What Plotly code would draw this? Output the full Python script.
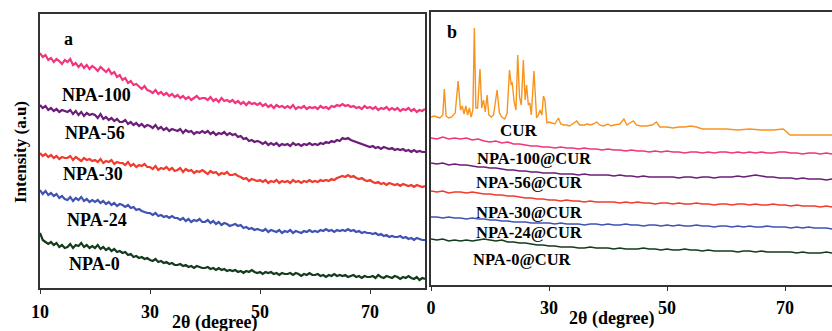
import plotly.graph_objects as go

# ---------------- data ----------------
two_theta_a = [10 + 0.5 * i for i in range(141)]
two_theta_b = [10 + 1.0 * i for i in range(71)]

npa100 = [235, 231, 233, 228, 230, 226, 229, 227, 224, 228,
          226, 229, 223, 225, 221, 224, 220, 223, 219, 222,
          220, 217, 221, 218, 216, 219, 214, 216, 211, 213,
          208, 210, 205, 207, 203, 204, 201, 199, 202, 198,
          197, 195, 198, 194, 196, 193, 195, 192, 194, 191,
          193, 190, 192, 189, 191, 188, 190, 192, 189, 190,
          190, 188, 191, 187, 189, 186, 190, 187, 188, 186,
          188, 185, 187, 184, 186, 183, 186, 184, 185, 183,
          185, 182, 184, 181, 183, 180, 183, 181, 182, 180,
          182, 180, 183, 179, 181, 180, 182, 179, 181, 180,
          181, 179, 182, 180, 181, 179, 182, 181, 183, 182,
          184, 182, 183, 181, 182, 180, 181, 179, 182, 180,
          181, 179, 181, 178, 180, 179, 181, 178, 180, 178,
          180, 177, 179, 178, 180, 177, 179, 176, 178, 177,
          179]
npa56 = [183, 180, 182, 178, 180, 177, 179, 176, 178, 177,
         176, 178, 174, 177, 173, 176, 172, 175, 173, 174,
         173, 170, 174, 169, 171, 168, 170, 167, 169, 166,
         166, 168, 164, 166, 163, 165, 162, 164, 161, 163,
         162, 160, 163, 159, 161, 158, 160, 157, 159, 158,
         157, 159, 155, 158, 156, 157, 154, 156, 155, 157,
         155, 157, 154, 156, 153, 155, 154, 156, 153, 155,
         153, 154, 151, 152, 149, 150, 147, 148, 146, 147,
         146, 144, 146, 143, 145, 143, 145, 142, 144, 143,
         144, 142, 145, 143, 144, 142, 144, 143, 145, 143,
         144, 143, 145, 144, 146, 145, 147, 146, 148, 147,
         150, 149, 150, 148, 147, 146, 145, 144, 143, 142,
         141, 142, 140, 141, 139, 141, 140, 139, 140, 138,
         139, 138, 139, 137, 138, 136, 138, 136, 137, 136,
         136]
npa30 = [135, 132, 134, 131, 133, 130, 132, 129, 131, 130,
         130, 132, 128, 131, 129, 127, 130, 128, 129, 127,
         128, 126, 129, 125, 127, 126, 128, 124, 126, 125,
         125, 123, 126, 122, 124, 121, 123, 122, 124, 121,
         121, 119, 122, 118, 120, 119, 121, 118, 120, 117,
         118, 120, 116, 119, 117, 118, 115, 117, 116, 118,
         116, 114, 117, 115, 116, 113, 115, 114, 116, 113,
         113, 114, 112, 111, 109, 110, 107, 109, 108, 107,
         108, 106, 108, 105, 107, 106, 108, 105, 107, 106,
         107, 105, 108, 106, 107, 105, 107, 106, 108, 106,
         107, 106, 108, 107, 108, 107, 109, 108, 110, 111,
         112, 111, 113, 111, 112, 110, 109, 110, 108, 107,
         108, 106, 105, 106, 104, 105, 103, 105, 104, 103,
         104, 102, 104, 103, 102, 103, 101, 103, 102, 101,
         102]
npa24 = [98, 94, 97, 93, 95, 92, 94, 90, 92, 89,
         88, 91, 87, 90, 88, 91, 87, 89, 86, 88,
         86, 88, 85, 87, 84, 86, 83, 85, 82, 84,
         83, 81, 83, 80, 81, 78, 79, 77, 76, 75,
         75, 73, 75, 72, 73, 71, 72, 70, 72, 70,
         70, 68, 70, 67, 69, 66, 68, 67, 69, 66,
         66, 68, 65, 67, 64, 66, 63, 65, 64, 62,
         63, 64, 62, 63, 60, 61, 59, 60, 58, 59,
         58, 57, 59, 56, 58, 57, 56, 58, 55, 57,
         56, 58, 55, 57, 56, 55, 57, 56, 58, 56,
         57, 56, 58, 57, 59, 57, 58, 56, 58, 57,
         58, 57, 59, 57, 58, 56, 57, 55, 56, 55,
         55, 54, 55, 53, 54, 52, 53, 51, 52, 51,
         51, 52, 50, 51, 49, 50, 48, 50, 49, 48,
         48]
npa0 = [55, 48, 46, 44, 46, 43, 45, 41, 43, 40,
        41, 44, 40, 43, 42, 45, 41, 43, 40, 42,
        40, 43, 39, 41, 38, 40, 37, 39, 36, 37,
        35, 36, 33, 34, 31, 32, 30, 31, 29, 30,
        28, 27, 29, 26, 27, 25, 26, 24, 25, 23,
        23, 24, 22, 23, 21, 22, 20, 22, 21, 20,
        20, 21, 19, 20, 18, 20, 18, 19, 17, 18,
        17, 18, 16, 17, 15, 17, 16, 18, 16, 15,
        16, 14, 16, 15, 16, 14, 15, 13, 15, 14,
        14, 15, 13, 15, 14, 12, 14, 13, 15, 13,
        13, 14, 12, 13, 11, 13, 12, 14, 12, 13,
        12, 13, 11, 12, 13, 11, 12, 10, 12, 11,
        11, 12, 10, 13, 11, 10, 12, 11, 10, 12,
        11, 9, 11, 10, 12, 10, 9, 11, 8, 10,
        9]

npa100_cur = [147, 146, 148, 146, 147, 146, 147, 145, 146, 144,
              143, 144, 142, 143, 141, 141, 140, 139, 139, 138,
              138, 137, 138, 137, 137, 136, 137, 136, 136, 135,
              136, 135, 135, 134, 135, 134, 134, 133, 134, 133,
              134, 133, 133, 132, 133, 133, 132, 133, 132, 133,
              133, 132, 133, 132, 133, 132, 133, 132, 132, 133,
              133, 132, 132, 131, 132, 132, 131, 132, 131, 132,
              132]
npa56_cur = [122, 121, 122, 120, 121, 120, 120, 119, 118, 118,
             117, 117, 116, 115, 115, 114, 114, 113, 113, 112,
             112, 112, 111, 111, 111, 110, 111, 110, 110, 110,
             110, 109, 110, 109, 109, 108, 109, 108, 108, 108,
             108, 108, 107, 108, 108, 107, 108, 108, 107, 108,
             108, 108, 109, 108, 109, 110, 109, 108, 108, 107,
             107, 107, 106, 107, 106, 106, 106, 105, 106, 105,
             105]
npa30_cur = [94, 93, 94, 92, 93, 93, 92, 93, 92, 91,
             91, 90, 90, 89, 89, 88, 87, 87, 86, 86,
             85, 85, 84, 85, 84, 84, 83, 84, 83, 83,
             83, 83, 82, 83, 82, 83, 82, 82, 81, 82,
             82, 81, 82, 81, 81, 82, 81, 81, 80, 81,
             81, 80, 81, 81, 80, 81, 80, 80, 81, 80,
             80, 79, 80, 79, 79, 79, 78, 79, 78, 78,
             78]
npa24_cur = [68, 68, 67, 68, 67, 67, 66, 67, 66, 66,
             65, 65, 64, 64, 63, 63, 63, 62, 62, 62,
             62, 61, 62, 61, 61, 61, 60, 61, 61, 60,
             61, 60, 60, 61, 60, 60, 59, 60, 60, 59,
             60, 59, 60, 59, 59, 60, 59, 59, 58, 59,
             59, 58, 59, 58, 59, 58, 58, 59, 58, 58,
             58, 57, 58, 57, 58, 57, 57, 57, 56, 57,
             57]
npa0_cur = [46, 45, 46, 44, 45, 44, 45, 44, 45, 46,
            45, 44, 45, 43, 43, 42, 42, 41, 40, 40,
            39, 39, 38, 38, 38, 37, 37, 38, 37, 37,
            37, 36, 37, 36, 36, 36, 37, 36, 36, 35,
            36, 35, 35, 36, 35, 35, 34, 35, 34, 34,
            34, 34, 33, 34, 34, 33, 34, 33, 33, 33,
            33, 33, 32, 33, 32, 32, 32, 33, 32, 32,
            32]

cur_x = [10.0, 10.5, 11.0, 11.5, 12.0, 12.26, 12.55, 13.0, 13.5, 14.1,
         14.6, 15.0, 15.3, 15.6, 15.9, 16.2, 16.5, 16.8, 17.1, 17.35,
         17.6, 17.9, 18.3, 18.6, 18.9, 19.2, 19.5, 19.8, 20.2, 20.6,
         21.2, 21.6, 22.0, 22.5, 22.9, 23.3, 23.6, 23.75, 24.1, 24.4,
         24.7, 25.0, 25.3, 25.65, 25.95, 26.2, 26.5, 26.75, 27.0, 27.45,
         27.9, 28.2, 28.5, 28.8, 29.05, 29.3, 29.65, 30.0, 30.5, 31.0,
         31.6, 32.0, 32.5, 33.0, 33.5, 34.0, 34.7, 35.2, 36.0, 36.5,
         37.0, 37.5, 38.1, 38.6, 39.2, 40.0, 40.5, 41.0, 42.0, 42.7,
         43.2, 43.7, 44.3, 44.8, 45.5, 46.5, 47.5, 48.2, 48.8, 50.0,
         51.0, 52.0, 53.0, 54.0, 55.0, 56.0, 58.0, 60.0, 62.0, 64.0,
         66.0, 68.0, 69.7, 70.85, 75.0, 80.0]
cur_y = [168, 169, 168, 167, 170, 196, 169, 167, 168, 172,
         204, 175, 179, 171, 179, 170, 177, 168, 175, 257,
         177, 177, 216, 177, 185, 173, 190, 170, 168, 170,
         195, 172, 168, 166, 172, 215, 200, 203, 183, 175,
         230, 188, 180, 225, 185, 200, 180, 182, 170, 214,
         167, 170, 175, 170, 189, 185, 162, 163, 162, 161,
         167, 161, 160, 160, 159, 161, 164, 160, 160, 161,
         160, 161, 163, 160, 159, 161, 159, 160, 161, 166,
         160, 162, 164, 160, 159, 159, 160, 163, 158, 158,
         157, 158, 158, 159, 158, 156, 156, 156, 155, 156,
         155, 155, 156, 150, 150, 150]

series_a = [("NPA-100", npa100, "#F0357C"),
            ("NPA-56", npa56, "#6B1E78"),
            ("NPA-30", npa30, "#F03C2E"),
            ("NPA-24", npa24, "#4053B3"),
            ("NPA-0", npa0, "#133B1C")]
series_b = [("NPA-100@CUR", npa100_cur, "#F0357C"),
            ("NPA-56@CUR", npa56_cur, "#6B1E78"),
            ("NPA-30@CUR", npa30_cur, "#F03C2E"),
            ("NPA-24@CUR", npa24_cur, "#4053B3"),
            ("NPA-0@CUR", npa0_cur, "#133B1C")]

tick_vals = [10, 30, 50, 70]
tick_text_a = ["10", "30", "50", "70"]
tick_text_b = ["0", "30", "50", "70"]

# ---------------- figure ----------------
W, H = 832, 331
FONT = "Liberation Serif"
fig = go.Figure()

for name, ys, col in series_a:
    fig.add_trace(go.Scatter(x=two_theta_a, y=ys, mode="lines", name=name,
                             line=dict(color=col, width=2.2), xaxis="x", yaxis="y"))
fig.add_trace(go.Scatter(x=cur_x, y=cur_y, mode="lines", name="CUR",
                         line=dict(color="#F7941D", width=1.4), xaxis="x2", yaxis="y2"))
for name, ys, col in series_b:
    fig.add_trace(go.Scatter(x=two_theta_b, y=ys, mode="lines", name=name,
                             line=dict(color=col, width=1.6), xaxis="x2", yaxis="y2"))


def px(x):
    return x / W


def py(y):
    return 1 - y / H


ax_common = dict(showgrid=False, zeroline=False, showline=True, linecolor="#333333",
                 linewidth=1.5, ticks="outside", ticklen=4, tickcolor="#333333",
                 tickvals=tick_vals, automargin=False,
                 tickfont=dict(family=FONT, size=18, color="black", weight="bold"))
ay_common = dict(showgrid=False, zeroline=False, showline=True, linecolor="#333333",
                 linewidth=1.5, showticklabels=False, ticks="", automargin=False)

fig.update_layout(
    width=W, height=H, margin=dict(l=0, r=0, t=0, b=0, pad=0, autoexpand=False),
    paper_bgcolor="white", plot_bgcolor="white", showlegend=False,
    xaxis=dict(ax_common, domain=[px(40), px(425)], range=[10, 80], mirror=True,
               ticktext=tick_text_a, anchor="y", ticklabelstandoff=3),
    yaxis=dict(ay_common, domain=[py(288), py(14)], range=[0, 274], mirror=True, anchor="x"),
    xaxis2=dict(ax_common, domain=[px(431), 1.0], range=[10, 10 + (832 - 431) / 5.9],
                mirror=True, ticktext=tick_text_b, anchor="y2", ticklabelstandoff=2),
    yaxis2=dict(ay_common, domain=[py(285), py(12)], range=[0, 273], mirror=False, anchor="x2"),
)

labels = [("a", 68, 39, 18), ("NPA-100", 96, 95, 18), ("NPA-56", 95, 133, 18),
          ("NPA-30", 93, 174, 18), ("NPA-24", 97, 220, 18), ("NPA-0", 94, 264, 18),
          ("b", 452, 32, 18), ("CUR", 519, 131, 17), ("NPA-100@CUR", 534, 158, 16.5),
          ("NPA-56@CUR", 529, 183, 16.5), ("NPA-30@CUR", 529, 212, 16.5),
          ("NPA-24@CUR", 529, 232, 16.5), ("NPA-0@CUR", 522, 259, 16.5),
          ("2θ (degree)", 215, 322, 18), ("2θ (degree)", 612, 318, 18)]
for text, x, y, s in labels:
    fig.add_annotation(text=text, x=px(x), y=py(y), xref="paper", yref="paper",
                       showarrow=False, xanchor="center", yanchor="middle",
                       font=dict(family=FONT, size=s, color="black", weight="bold"))
fig.add_annotation(text="Intensity (a.u)", x=px(21), y=py(152), xref="paper", yref="paper",
                   showarrow=False, textangle=-90, xanchor="center", yanchor="middle",
                   font=dict(family=FONT, size=17, color="black", weight="bold"))

fig.write_html("out.html", config={"displayModeBar": False},
               post_script="document.body.style.margin='0';"
                           "document.body.style.overflow='hidden';")
